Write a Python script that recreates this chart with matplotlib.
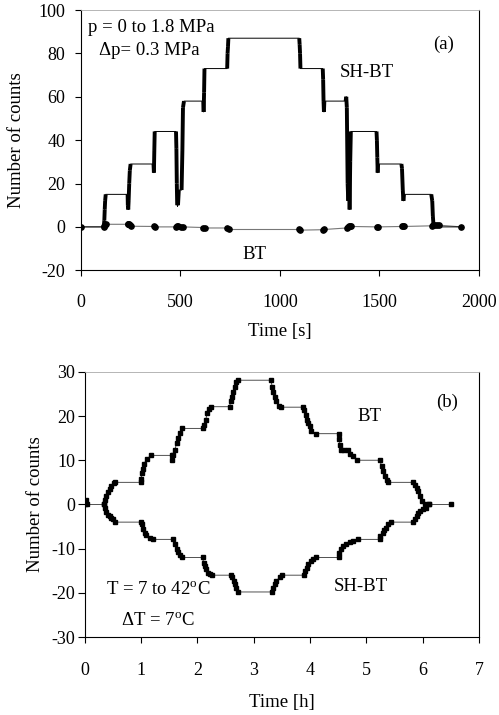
import matplotlib
matplotlib.use("Agg")
import matplotlib.pyplot as plt

plt.rcParams["font.family"] = ["Liberation Serif", "DejaVu Serif"]
plt.rcParams["mathtext.fontset"] = "stix"
plt.rcParams["axes.unicode_minus"] = False

# ── (a) pressure steps ─────────────────────────────────────────────────────────
sh_bt_a_t = [0, 115, 118, 120, 122, 125, 235, 236, 238, 240, 243, 246, 250,
             365, 367, 369, 371, 478, 480, 482, 484, 488, 492, 506, 510, 513,
             518, 615, 617, 619, 621, 735, 737, 739, 741, 1097, 1099, 1101,
             1103, 1215, 1217, 1219, 1221, 1223, 1330, 1333, 1336, 1340, 1343,
             1346, 1350, 1353, 1356, 1485, 1487, 1489, 1491, 1493, 1610, 1613,
             1617, 1620, 1623, 1760, 1765, 1768, 1772, 1910]
sh_bt_a_n = [0, 0, 3, 8, 12, 15, 15, 10, 8, 12, 20, 26, 29,
             29, 25, 35, 44, 44, 36, 20, 10, 10, 17, 17, 35, 55,
             58, 58, 53, 62, 73, 73, 80, 83, 87, 87, 84, 80,
             73, 73, 68, 58, 53, 58, 58, 60, 55, 20, 12,
             40, 8, 30, 44, 44, 40, 32, 25, 29, 29, 27,
             17, 12, 15, 15, 12, 5, 0, 0]

bt_a_t = [0, 115, 118, 121, 124, 235, 238, 242, 246, 250, 368, 372, 478, 484,
          490, 505, 512, 615, 622, 735, 742, 1095, 1102, 1215, 1222, 1335,
          1340, 1345, 1350, 1355, 1488, 1495, 1615, 1620, 1625, 1765, 1770,
          1780, 1790, 1800, 1910]
bt_a_n = [0, 0, 0.5, 1, 1.2, 1.2, 1.5, 1.5, 1, 0.3, 0.2, 0, 0, 0.3,
          0.2, 0, 0, -0.3, -0.5, -0.5, -1.2, -1.2, -1.5, -1.3, -1.2, -0.5,
          0, 0.2, 0.3, 0.2, 0, 0, 0.2, 0.3, 0.2, 0.5, 1,
          1, 1, 0.8, 0]

# ── (b) temperature steps ──────────────────────────────────────────────────────
bt_b_t = [0, 0.02, 0.04, 0.34, 0.36, 0.38, 0.41, 0.44, 0.47, 0.51, 0.53, 1.0,
          1.0, 1.01, 1.03, 1.05, 1.1, 1.18, 1.54, 1.55, 1.57, 1.6, 1.63, 1.66,
          1.69, 1.73, 2.1, 2.12, 2.15, 2.17, 2.2, 2.24, 2.57, 2.59, 2.62, 2.63,
          2.66, 2.69, 2.72, 3.3, 3.33, 3.35, 3.37, 3.4, 3.45, 3.49, 3.88, 3.9,
          3.92, 3.94, 3.96, 3.99, 4.02, 4.11, 4.51, 4.52, 4.53, 4.55, 4.61,
          4.67, 4.7, 4.76, 4.83, 5.24, 5.27, 5.3, 5.33, 5.36, 5.38, 5.83, 5.86,
          5.89, 5.92, 5.95, 5.98, 6.04, 6.12, 6.51]
bt_b_n = [0, 1, 0, 0, 1, 2, 2.8, 3.4, 4.2, 4.8, 5, 5,
          5.8, 7, 8, 9.2, 10.3, 11.1, 11.1, 10, 11.2, 12.4, 13.9, 15,
          16.2, 17.2, 17.2, 18, 19.2, 20.7, 21.5, 22.1, 22.1, 23.3, 24.4, 25.5,
          26.6, 27.6, 28.1, 28.1, 26.6, 25.5, 24.4, 23.3, 22.2, 22, 22, 21.4,
          20.3, 19.2, 18.4, 17.7, 16.5, 16, 16, 14.7, 13.5, 12.4, 12.3,
          12.2, 11.3, 11, 10, 10, 8.6, 7.5, 6.4, 5.6, 5, 5, 4.5,
          3.8, 3, 1.9, 0.8, 0.2, 0, 0]

sh_bt_b_t = [0.34, 0.36, 0.38, 0.41, 0.44, 0.47, 0.5, 0.53, 1.0, 1.01, 1.03,
             1.06, 1.09, 1.15, 1.21, 1.57, 1.6, 1.63, 1.66, 1.69, 1.72, 2.09,
             2.11, 2.13, 2.16, 2.19, 2.22, 2.25, 2.6, 2.62, 2.64, 2.66, 2.69,
             2.72, 3.33, 3.34, 3.37, 3.4, 3.46, 3.51, 3.89, 3.91, 3.94, 3.97,
             4.01, 4.06, 4.11, 4.51, 4.52, 4.55, 4.58, 4.64, 4.7, 4.76, 4.85,
             5.24, 5.25, 5.29, 5.31, 5.34, 5.38, 5.44, 5.83, 5.86, 5.89, 5.92,
             5.95, 6.0, 6.06, 6.12]
sh_bt_b_n = [0, -0.8, -1.7, -2.3, -2.6, -3.0, -3.4, -4, -4, -4.5, -5.6,
             -6.4, -7, -7.5, -7.9, -7.9, -9, -10, -10.8, -11.5, -12, -12,
             -13.2, -13.9, -14.7, -15.4, -15.8, -16, -16, -16.5, -17.3, -18, -19,
             -19.8, -19.8, -18.8, -18, -17.3, -16.5, -16, -16, -15, -14.3, -13.5,
             -12.8, -12.3, -12, -12, -10.9, -10, -9.5, -9, -8.6, -8.3, -7.9,
             -7.9, -7.1, -6.4, -5.8, -5.3, -4.5, -4, -4, -3.4, -2.6, -1.9,
             -1.5, -1.1, -0.75, 0]

TXT = 13.5


def style_axes(ax):
    for side in ["left", "bottom", "right"]:
        ax.spines[side].set_color("black")
        ax.spines[side].set_linewidth(0.8)
    ax.spines["top"].set_color("#aaaaaa")
    ax.spines["top"].set_linewidth(0.6)
    ax.tick_params(direction="out", length=4, width=0.8, labelsize=13)
    ax.tick_params(axis="x", pad=13)


fig = plt.figure(figsize=(4.99, 7.15), dpi=100)

# panel (a)
ax1 = fig.add_axes([0.162, 0.622, 0.798, 0.364])
ax1.plot(bt_a_t, bt_a_n, color="#777777", linewidth=0.8, marker="o",
         markersize=3.8, markerfacecolor="black", markeredgecolor="black",
         zorder=2)
ax1.plot(sh_bt_a_t, sh_bt_a_n, color="black", linewidth=0.7, zorder=3)
# the dense bursts of counts show up as thick vertical bars
for i in range(len(sh_bt_a_t) - 1):
    if sh_bt_a_t[i + 1] - sh_bt_a_t[i] < 8:
        ax1.plot(sh_bt_a_t[i:i + 2], sh_bt_a_n[i:i + 2], color="black",
                 linewidth=2.8, solid_capstyle="butt", zorder=3)
ax1.set_xlim(0, 2000)
ax1.set_ylim(-20, 100)
ax1.set_xticks([0, 500, 1000, 1500, 2000])
ax1.set_yticks([-20, 0, 20, 40, 60, 80, 100])
style_axes(ax1)
ax1.tick_params(axis="y", pad=7)
ax1.set_xlabel("Time [s]", fontsize=13.5, labelpad=9)
ax1.set_ylabel("Number of counts", fontsize=13.5, labelpad=10)
ax1.text(38, 92, "p = 0 to 1.8 MPa", fontsize=TXT, va="center")
ax1.text(92, 81.5, "Δp= 0.3 MPa", fontsize=TXT, va="center")
ax1.text(1820, 84, "(a)", fontsize=TXT, ha="center", va="center")
ax1.text(1437, 71, "SH-BT", fontsize=TXT, ha="center", va="center")
ax1.text(870, -12.5, "BT", fontsize=TXT, ha="center", va="center")

# panel (b)
ax2 = fig.add_axes([0.170, 0.109, 0.790, 0.371])
ax2.plot(bt_b_t, bt_b_n, color="#333333", linewidth=0.6, marker="s",
         markersize=2.2, markerfacecolor="black", markeredgecolor="black")
ax2.plot(sh_bt_b_t, sh_bt_b_n, color="#333333", linewidth=0.6, marker="s",
         markersize=2.2, markerfacecolor="black", markeredgecolor="black")
ax2.set_xlim(0, 7)
ax2.set_ylim(-30, 30)
ax2.set_xticks(range(0, 8))
ax2.set_yticks([-30, -20, -10, 0, 10, 20, 30])
style_axes(ax2)
ax2.tick_params(axis="y", pad=2, length=5)
ax2.tick_params(axis="x", pad=14)
ax2.set_xlabel("Time [h]", fontsize=13.5, labelpad=10.5)
ax2.set_ylabel("Number of counts", fontsize=13.5, labelpad=5)
ax2.text(6.43, 23.2, "(b)", fontsize=TXT, ha="center", va="center")
ax2.text(5.05, 20, "BT", fontsize=TXT, ha="center", va="center")
ax2.text(4.9, -18.5, "SH-BT", fontsize=TXT, ha="center", va="center")
ax2.text(1.3, -19.5, r"T = 7 to 42$^\mathregular{o}$C", fontsize=TXT,
         ha="center", va="center")
ax2.text(1.3, -26.5, r"ΔT = 7$^\mathregular{o}$C", fontsize=TXT,
         ha="center", va="center")

plt.savefig("out.png", dpi=100)
plt.close()
